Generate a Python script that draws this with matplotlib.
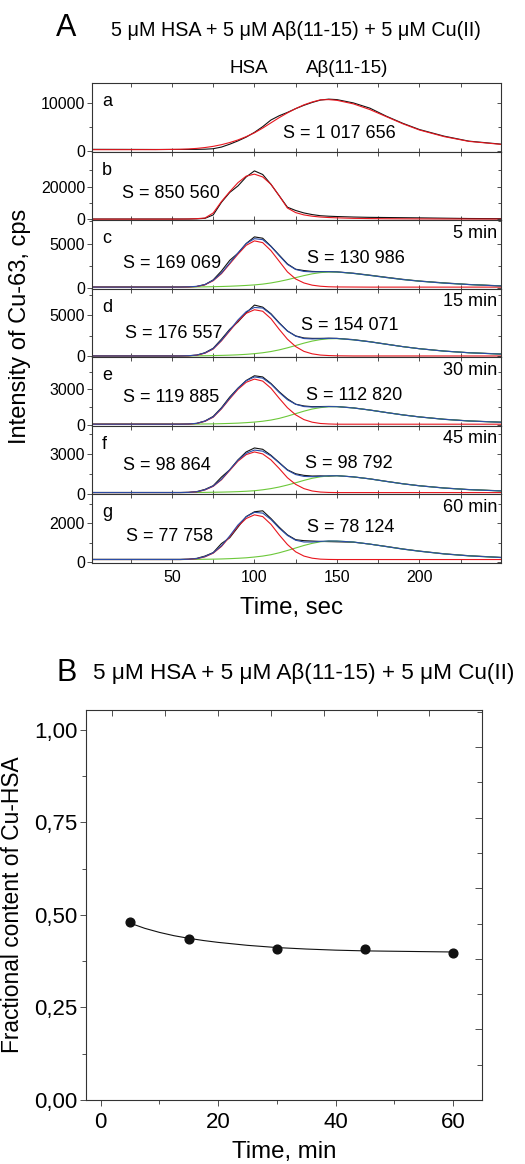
import matplotlib
matplotlib.use('Agg')
import matplotlib.pyplot as plt
from matplotlib.ticker import MultipleLocator, FixedLocator, NullFormatter

plt.rcParams['font.family'] = ['Liberation Sans', 'DejaVu Sans']

# time grid (sec) for all chromatograms
t = [0, 20, 40, 55, 60, 65, 70, 75, 80, 85, 90, 95, 100, 105, 110, 115, 120, 125,
     130, 135, 140, 145, 150, 160, 170, 180, 190, 200, 215, 230, 250]

# a: Abeta(11-15) + Cu
black_a = [320, 310, 290, 300, 300, 320, 350, 450, 800, 1400, 2100, 2900, 3900, 5100, 6500, 7400,
           8100, 8900, 9600, 10200, 10700, 10900, 10800, 10100, 9000, 7300, 5800, 4500, 3100, 2050, 1400]
red_a = [250, 250, 260, 330, 400, 520, 700, 950, 1300, 1750, 2300, 3000, 3800, 4800, 5900, 7000,
         8000, 8900, 9700, 10300, 10750, 10800, 10650, 9900, 8700, 7200, 5700, 4400, 3000, 2000, 1350]

# b: HSA + Cu
black_b = [300, 300, 300, 300, 300, 400, 700, 2800, 10500, 16500, 20500, 26000, 29700, 27500, 21500, 14500,
           7500, 5500, 4000, 3000, 2300, 2000, 1800, 1500, 1300, 1200, 1100, 1000, 800, 600, 500]
red_b = [200, 200, 200, 220, 300, 500, 900, 4000, 11000, 17000, 22500, 26500, 27700, 26000, 21500, 14500,
         7000, 4200, 2800, 2000, 1500, 1200, 1000, 700, 550, 450, 400, 350, 300, 280, 250]

# c: 5 min
black_c = [100, 100, 90, 100, 110, 150, 350, 900, 1900, 3100, 3900, 5000, 5750, 5600, 4700, 3700,
           2700, 2100, 1950, 1850, 1820, 1820, 1800, 1650, 1430, 1190, 960, 770, 560, 380, 220]
red_c = [80, 80, 80, 80, 100, 150, 350, 800, 1600, 2700, 3800, 4800, 5300, 5100, 4200, 3000,
         1800, 1000, 550, 300, 180, 120, 100, 90, 80, 80, 80, 80, 80, 80, 80]
green_c = [80, 80, 80, 85, 90, 100, 110, 130, 150, 180, 220, 270, 330, 420, 550, 720,
           920, 1150, 1380, 1580, 1720, 1790, 1780, 1620, 1400, 1160, 930, 750, 530, 370, 200]
blue_c = [80, 80, 80, 85, 110, 170, 380, 850, 1670, 2800, 3940, 4990, 5550, 5440, 4670, 3640,
          2640, 2070, 1850, 1800, 1820, 1830, 1800, 1630, 1400, 1160, 930, 750, 530, 370, 200]

# d: 15 min
black_d = [80, 80, 80, 80, 90, 160, 450, 1000, 2100, 3300, 4200, 5300, 6250, 6000, 5200, 4100,
           3100, 2500, 2250, 2200, 2200, 2220, 2200, 2050, 1800, 1500, 1200, 950, 660, 460, 300]
red_d = [60, 60, 60, 60, 80, 150, 400, 900, 1900, 3100, 4300, 5250, 5680, 5500, 4600, 3300,
         2100, 1200, 620, 320, 170, 110, 80, 60, 60, 60, 60, 60, 60, 60, 60]
green_d = [60, 60, 60, 60, 70, 80, 90, 110, 130, 160, 200, 260, 340, 450, 600, 800,
           1050, 1330, 1620, 1870, 2050, 2150, 2170, 2020, 1780, 1480, 1190, 940, 650, 450, 280]
blue_d = [60, 60, 60, 60, 90, 170, 430, 950, 1970, 3200, 4440, 5450, 5960, 5890, 5140, 4040,
          3090, 2470, 2180, 2130, 2160, 2200, 2190, 2020, 1780, 1480, 1190, 940, 650, 450, 280]

# e: 30 min
black_e = [70, 70, 70, 70, 80, 130, 330, 720, 1450, 2350, 3100, 3750, 4150, 4050, 3500, 2800,
           2200, 1750, 1600, 1540, 1550, 1560, 1550, 1440, 1260, 1050, 850, 680, 480, 340, 230]
red_e = [60, 60, 60, 60, 70, 120, 300, 650, 1350, 2200, 3000, 3600, 3870, 3700, 3100, 2250,
         1450, 850, 450, 230, 120, 80, 60, 60, 60, 60, 60, 60, 60, 60, 60]
green_e = [60, 60, 60, 60, 65, 70, 80, 90, 105, 125, 150, 190, 240, 310, 410, 550,
           740, 950, 1160, 1340, 1460, 1530, 1540, 1430, 1250, 1040, 840, 670, 470, 330, 220]
blue_e = [60, 60, 60, 60, 75, 130, 320, 680, 1395, 2265, 3090, 3730, 4050, 3950, 3450, 2740,
          2130, 1740, 1550, 1510, 1520, 1550, 1540, 1430, 1250, 1040, 840, 670, 470, 330, 220]

# f: 45 min
black_f = [90, 90, 90, 90, 100, 150, 320, 600, 1250, 1800, 2550, 3150, 3450, 3350, 2900, 2350,
           1800, 1500, 1380, 1330, 1340, 1320, 1360, 1260, 1120, 930, 750, 600, 430, 310, 210]
red_f = [80, 80, 80, 80, 90, 130, 280, 550, 1050, 1750, 2450, 2950, 3150, 3000, 2550, 1900,
         1200, 700, 380, 200, 120, 90, 80, 80, 80, 80, 80, 80, 80, 80, 80]
green_f = [80, 80, 80, 80, 85, 90, 95, 105, 115, 130, 150, 180, 220, 290, 380, 500,
           650, 820, 1000, 1160, 1270, 1340, 1350, 1270, 1110, 920, 740, 590, 420, 300, 200]
blue_f = [80, 80, 80, 80, 95, 140, 295, 575, 1085, 1800, 2520, 3050, 3290, 3210, 2850, 2320,
          1770, 1440, 1300, 1280, 1310, 1350, 1350, 1270, 1110, 920, 740, 590, 420, 300, 200]

# g: 60 min
black_g = [130, 130, 130, 130, 140, 180, 300, 480, 950, 1250, 1800, 2350, 2600, 2650, 2250, 1800,
           1400, 1150, 1100, 1080, 1060, 1050, 1040, 1020, 920, 800, 670, 560, 420, 320, 230]
red_g = [120, 120, 120, 120, 130, 160, 260, 450, 800, 1300, 1850, 2250, 2440, 2350, 1950, 1400,
         900, 520, 300, 190, 140, 125, 120, 120, 120, 120, 120, 120, 120, 120, 120]
green_g = [120, 120, 120, 120, 125, 130, 135, 140, 150, 165, 185, 210, 250, 300, 370, 470,
           590, 720, 850, 960, 1040, 1080, 1080, 1030, 920, 790, 660, 550, 410, 310, 220]
blue_g = [120, 120, 120, 120, 135, 170, 275, 470, 830, 1345, 1915, 2340, 2570, 2530, 2200, 1750,
          1370, 1120, 1030, 1030, 1060, 1085, 1080, 1030, 920, 790, 660, 550, 410, 310, 220]

# areas written on the panels
s_left = ['S = 1 017 656', 'S = 850 560', 'S = 169 069', 'S = 176 557', 'S = 119 885', 'S = 98 864', 'S = 77 758']
s_right = [None, None, 'S = 130 986', 'S = 154 071', 'S = 112 820', 'S = 98 792', 'S = 78 124']
times = [None, None, '5 min', '15 min', '30 min', '45 min', '60 min']
letters = ['a', 'b', 'c', 'd', 'e', 'f', 'g']

# panel B
time_min = [5, 15, 30, 45, 60]
frac_hsa = [0.480, 0.436, 0.408, 0.409, 0.397]
fit_time = [5, 7.5, 10, 12.5, 15, 17.5, 20, 25, 30, 35, 40, 45, 50, 55, 60]
fit_frac = [0.478, 0.464, 0.453, 0.444, 0.437, 0.431, 0.426, 0.418, 0.412, 0.408, 0.405, 0.403, 0.402, 0.401, 0.400]

blacks = [black_a, black_b, black_c, black_d, black_e, black_f, black_g]
reds = [red_a, red_b, red_c, red_d, red_e, red_f, red_g]
greens = [None, None, green_c, green_d, green_e, green_f, green_g]
blues = [None, None, blue_c, blue_d, blue_e, blue_f, blue_g]

ylims = [(-150, 14300), (-400, 41500), (-100, 7640), (-100, 8240), (-80, 5710), (-60, 5120), (-60, 3500)]
ymajor = [[0, 10000], [0, 20000], [0, 5000], [0, 5000], [0, 3000], [0, 3000], [0, 2000]]
yminor = [[5000], [10000, 30000], [2500, 7500], [2500, 7500], [1500, 4500], [1500, 4500], [1000, 3000]]
# x position (sec) of the S labels and y position in axes fraction
sl_pos = [(151.8, 0.27), (49.2, 0.39), (50.3, 0.373), (50.8, 0.344), (49.2, 0.42), (47, 0.42), (48.6, 0.387)]
sr_pos = [None, None, (161.5, 0.446), (157.9, 0.465), (160.4, 0.446), (157.4, 0.446), (158.4, 0.52)]

W, H = 525, 1164
fig = plt.figure(figsize=(W / 100, H / 100), dpi=100)

c_black = '#111111'
c_red = '#e8161e'
c_green = '#6cc83a'
c_blue = '#2a4ca6'
spine_c = '#333333'

ax_left, ax_right = 92, 501
top_px, bot_px = 83, 563
hpx = (bot_px - top_px) / 7

for i in range(7):
    y0 = top_px + i * hpx
    ax = fig.add_axes([ax_left / W, 1 - (y0 + hpx) / H, (ax_right - ax_left) / W, hpx / H])
    ax.plot(t, blacks[i], color=c_black, lw=0.8)
    if greens[i] is not None:
        ax.plot(t, greens[i], color=c_green, lw=0.8)
    ax.plot(t, reds[i], color=c_red, lw=0.8)
    if blues[i] is not None:
        ax.plot(t, blues[i], color=c_blue, lw=0.8)
    ax.set_xlim(1.5, 249.5)
    ax.set_ylim(*ylims[i])
    ax.xaxis.set_major_locator(MultipleLocator(50))
    ax.xaxis.set_minor_locator(MultipleLocator(25))
    ax.yaxis.set_major_locator(FixedLocator(ymajor[i]))
    ax.yaxis.set_minor_locator(FixedLocator(yminor[i]))
    ax.tick_params(axis='x', which='both', direction='in', top=True, bottom=True, length=3, width=0.6,
                   labelsize=11.5, color=spine_c, pad=5)
    ax.tick_params(axis='y', which='both', direction='out', length=3.5, width=0.6, labelsize=11.5,
                   color=spine_c, pad=1.5)
    ax.tick_params(axis='y', which='minor', length=2.5)
    if i < 6:
        ax.tick_params(axis='x', labelbottom=False)
    for sp in ax.spines.values():
        sp.set_linewidth(0.8)
        sp.set_color(spine_c)
    # mirrored inward ticks on the right side
    axr = ax.twinx()
    axr.set_ylim(*ylims[i])
    axr.yaxis.set_major_locator(FixedLocator(ymajor[i]))
    axr.yaxis.set_minor_locator(FixedLocator(yminor[i]))
    axr.tick_params(axis='y', which='both', direction='in', length=3, width=0.6, labelright=False, color=spine_c)
    axr.tick_params(axis='y', which='minor', length=2)
    for sp in axr.spines.values():
        sp.set_visible(False)

    ax.text(0.025, 0.73, letters[i], transform=ax.transAxes, fontsize=13, ha='left', va='center')
    xs, ys = sl_pos[i]
    ax.text(xs, ys, s_left[i], transform=ax.get_xaxis_transform(), fontsize=13, ha='center', va='center')
    if s_right[i] is not None:
        xs, ys = sr_pos[i]
        ax.text(xs, ys, s_right[i], transform=ax.get_xaxis_transform(), fontsize=13, ha='center', va='center')
    if times[i] is not None:
        ax.text(0.99, 0.81, times[i], transform=ax.transAxes, fontsize=13, ha='right', va='center')

fig.text(65.7 / W, 1 - 28 / H, 'A', fontsize=22, ha='center', va='center')
fig.text(296 / W, 1 - 31 / H, '5 \u03bcM HSA + 5 \u03bcM A\u03b2(11-15) + 5 \u03bcM Cu(II)', fontsize=14.2,
         ha='center', va='center')
fig.text(249 / W, 1 - 68.5 / H, 'HSA', fontsize=13.5, ha='center', va='center')
fig.text(347 / W, 1 - 68.5 / H, 'A\u03b2(11-15)', fontsize=13.5, ha='center', va='center')
fig.text(20 / W, 1 - 326 / H, 'Intensity of Cu-63, cps', fontsize=17, rotation=90, ha='center', va='center')
fig.text(291 / W, 1 - 608 / H, 'Time, sec', fontsize=17.3, ha='center', va='center')

# ---- panel B ----
bl, br, bt, bb = 86, 482.3, 710, 1100
axb = fig.add_axes([bl / W, 1 - bb / H, (br - bl) / W, (bb - bt) / H])
axb.plot(fit_time, fit_frac, color=c_black, lw=0.8)
axb.plot(time_min, frac_hsa, 'o', color=c_black, ms=6.3)
axb.set_xlim(-2.5, 65)
axb.set_ylim(0, 1.054)
axb.xaxis.set_major_locator(MultipleLocator(20))
axb.xaxis.set_minor_locator(MultipleLocator(10))
axb.yaxis.set_major_locator(MultipleLocator(0.25))
axb.yaxis.set_minor_locator(MultipleLocator(0.125))
axb.yaxis.set_major_formatter(plt.FuncFormatter(lambda v, p: f'{v:.2f}'.replace('.', ',')))
axb.tick_params(which='both', direction='out', length=4, width=0.6, labelsize=16, color=spine_c)
axb.tick_params(which='minor', length=3)
axb.tick_params(axis='x', pad=5)
axb.tick_params(axis='y', pad=2)
for sp in axb.spines.values():
    sp.set_linewidth(0.8)
    sp.set_color(spine_c)

axbt = axb.twiny()
axbt.set_xlim(-2.5, 65)
axbt.xaxis.set_major_locator(FixedLocator([2, 11, 20, 29, 38, 47, 56]))
axbt.xaxis.set_major_formatter(NullFormatter())
axbt.tick_params(axis='x', direction='in', length=4, width=0.6, color=spine_c)
for sp in axbt.spines.values():
    sp.set_visible(False)

axbr = axb.twinx()
axbr.set_ylim(0, 11.05)
axbr.yaxis.set_major_locator(MultipleLocator(2))
axbr.yaxis.set_minor_locator(MultipleLocator(1))
axbr.yaxis.set_major_formatter(NullFormatter())
axbr.tick_params(axis='y', which='both', direction='in', length=5, width=0.6, color=spine_c)
axbr.tick_params(axis='y', which='minor', length=3.5)
for sp in axbr.spines.values():
    sp.set_visible(False)

fig.text(67 / W, 1 - 673 / H, 'B', fontsize=22, ha='center', va='center')
fig.text(303.5 / W, 1 - 674 / H, '5 \u03bcM HSA + 5 \u03bcM A\u03b2(11-15) + 5 \u03bcM Cu(II)', fontsize=16.2,
         ha='center', va='center')
fig.text(13 / W, 1 - 905 / H, 'Fractional content of Cu-HSA', fontsize=16.4, rotation=90,
         ha='center', va='center')
fig.text(284 / W, 1 - 1152 / H, 'Time, min', fontsize=17.3, ha='center', va='center')

fig.savefig('out.png', dpi=100)
